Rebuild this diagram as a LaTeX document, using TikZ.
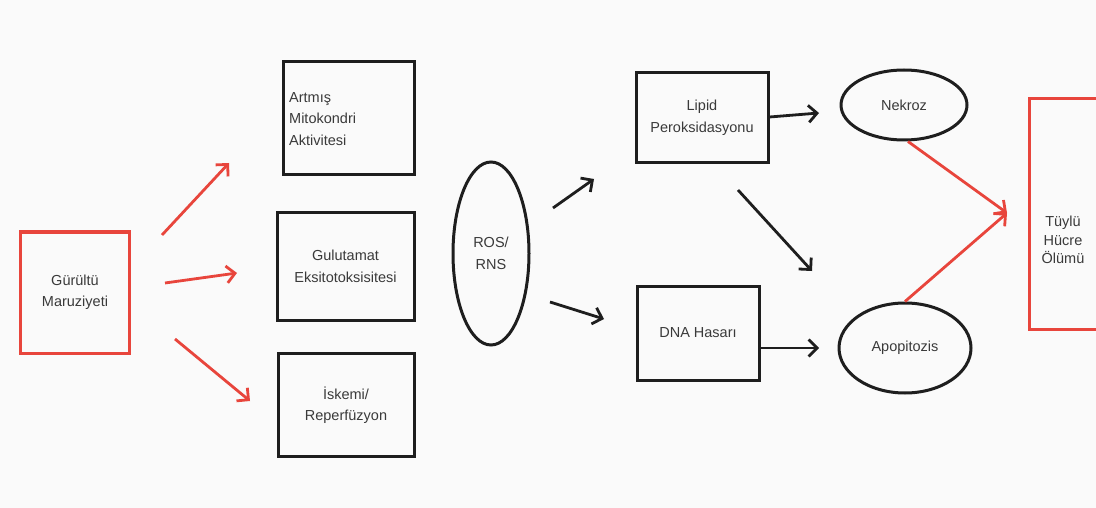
\documentclass[tikz,border=0pt]{standalone}
\usepackage{fontspec}
\setmainfont{Liberation Sans}
\usetikzlibrary{arrows.meta,shapes.geometric}
\definecolor{rd}{HTML}{E8453C}
\definecolor{ink}{HTML}{1E1E1E}
\definecolor{txt}{HTML}{3A3A3A}
\definecolor{bg}{HTML}{FAFAFA}
\tikzset{
  lbl/.style={font=\fontsize{14.5}{21.5}\selectfont,text=txt},
  box/.style={draw=ink,line width=3pt,inner sep=0pt,lbl,align=center},
  redbox/.style={box,draw=rd},
  oval/.style={box,ellipse},
  blk/.style={draw=ink,line width=2.8pt,-{Straight Barb[length=8.5pt,width=17pt,line width=2.8pt]}},
  red/.style={draw=rd,line width=2.8pt,-{Straight Barb[length=8.5pt,width=17pt,line width=2.8pt]}},
}
\begin{document}
\begin{tikzpicture}[x=1pt,y=-1pt]
\fill[bg] (0,0) rectangle (1096,508);
\useasboundingbox (0,0) rectangle (1096,508);
% nodes
\node[redbox,minimum width=109pt,minimum height=121pt] (g) at (75,292.5) {Gürültü\\Maruziyeti};
\node[box,minimum width=131pt,minimum height=113pt] (a) at (348.5,118.5) {};
\node[lbl,align=left,anchor=west,inner sep=0pt] (at) at (289,119) {Artmış\\Mitokondri\\Aktivitesi};
\node[box,minimum width=137pt,minimum height=108pt] (gl) at (345.5,266.5) {Gulutamat\\Eksitotoksisitesi};
\node[box,minimum width=136pt,minimum height=103pt] (is) at (346,405) {İskemi/\\Reperfüzyon};
\node[oval,minimum width=76pt,minimum height=183pt] (ros) at (491,253.5) {ROS/\\RNS};
\node[box,minimum width=132pt,minimum height=90pt] (lp) at (702,118) {Lipid\\Peroksidasyonu};
\node[box,minimum width=122pt,minimum height=94pt] (dna) at (698,333) {DNA Hasarı};
\node[oval,minimum width=126pt,minimum height=70pt] (nk) at (904,105) {Nekroz};
\node[oval,minimum width=132pt,minimum height=90pt] (ap) at (905,348) {Apopitozis};
\node[redbox,minimum width=70pt,minimum height=231pt,anchor=north west] (th) at (1028,97) {};
\node[lbl,font=\fontsize{14.5}{18.5}\selectfont,align=center] (tt) at (1063,240) {Tüylü\\Hücre\\Ölümü};
% free arrow ends
\coordinate (g1s) at (162,235); \coordinate (g1e) at (229,163);
\coordinate (g2s) at (165,283); \coordinate (g2e) at (237,273);
\coordinate (g3s) at (175,339); \coordinate (g3e) at (250,401);
\coordinate (r1s) at (553,208); \coordinate (r1e) at (594,179);
\coordinate (r2s) at (550,302); \coordinate (r2e) at (604,319);
\coordinate (l1e) at (819,113);
\coordinate (l2s) at (738,190); \coordinate (l2e) at (812,271);
\coordinate (d1e) at (819,348);
\coordinate (tip) at (1007,213);
% arrows
\draw[red] (g1s) -- (g1e);
\draw[red] (g2s) -- (g2e);
\draw[red] (g3s) -- (g3e);
\draw[blk] (r1s) -- (r1e);
\draw[blk] (r2s) -- (r2e);
\draw[blk] (lp.east |- 0,117) -- (l1e);
\draw[blk] (l2s) -- (l2e);
\draw[blk] (dna.east |- 0,348) -- (d1e);
\draw[red] (nk.south) ++(4,0) -- (tip);
\draw[red] (ap.north) -- (tip);
\end{tikzpicture}
\end{document}
